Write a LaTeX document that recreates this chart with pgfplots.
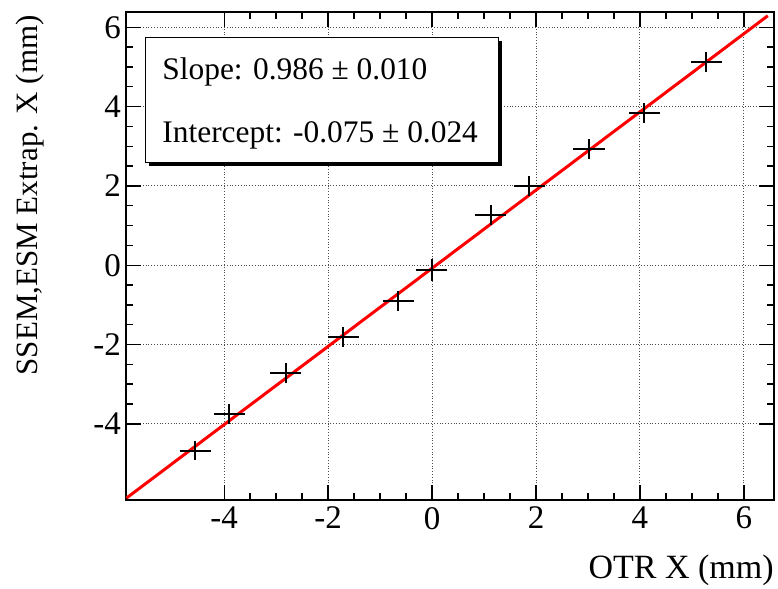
\documentclass[border=0pt]{standalone}
\usepackage{fontspec}
\setmainfont{Liberation Serif}
\usepackage{pgfplots}
\pgfplotsset{compat=1.18}
\definecolor{fitred}{HTML}{FF0000}

\begin{document}
\begin{tikzpicture}[font=\rmfamily]
  \useasboundingbox (-63pt,-44.5pt) rectangle (326pt,250pt);
  \begin{axis}[at={(0,0)},anchor=south west,
    scale only axis,width=324pt,height=244pt,
    xmin=-5.89,xmax=6.58,ymin=-5.92,ymax=6.385,
    xtick={-4,-2,0,2,4,6},xticklabels={-4,-2,0,2,4,6},
    ytick={-4,-2,0,2,4,6},yticklabels={-4,-2,0,2,4,6},
    minor x tick num=3,minor y tick num=3,
    tick align=inside,major tick length=7.5pt,minor tick length=3.5pt,
    tick style={black,line width=0.7pt},
    grid=major,major grid style={densely dotted,black!70,line width=0.5pt},
    axis line style={line width=1pt},
    tick label style={font=\fontsize{16.5}{19}\selectfont},
    yticklabel style={xshift=1pt},
    xlabel={OTR X (mm)},ylabel={SSEM,ESM Extrap. X (mm)},
    xlabel style={at={(rel axis cs:1,-0.145)},anchor=east,inner sep=0pt,
      font=\fontsize{17}{20}\selectfont},
    ylabel style={at={(rel axis cs:-0.148,0.994)},anchor=east,inner sep=0pt,
      font=\fontsize{15.5}{18}\selectfont},
  ]
    % fit line
    \addplot[fitred,line width=1.5pt] coordinates {(-5.88,-5.87)(6.46,6.29)};
    % data with errors
    \addplot[draw=none,mark=none,
      error bars/.cd,x dir=both,y dir=both,x explicit,y explicit,
      error mark=none,error bar style={draw=black,solid,line width=1pt}]
      table[x=x,y=y,x error=ex,y error=ey] {
      x y ex ey
      -4.56 -4.68 0.30 0.24
      -3.90 -3.76 0.30 0.25
      -2.82 -2.71 0.30 0.25
      -1.71 -1.81 0.30 0.25
      -0.65 -0.90 0.30 0.25
      -0.01 -0.12 0.30 0.27
      1.13 1.27 0.30 0.25
      1.87 2.00 0.30 0.25
      3.02 2.93 0.30 0.25
      4.08 3.83 0.30 0.25
      5.28 5.12 0.30 0.25
    };
    % fit results box with shadow
    \fill[black] ([xshift=1.5pt,yshift=-1.5pt]rel axis cs:0.0305,0.691) rectangle ([xshift=1.5pt,yshift=-1.5pt]rel axis cs:0.575,0.947);
    \draw[black,fill=white,line width=0.6pt] (rel axis cs:0.0305,0.691) rectangle (rel axis cs:0.575,0.947);
    \node[anchor=base west,inner sep=0pt,font=\fontsize{15.7}{18}\selectfont] at (rel axis cs:0.0556,0.861) {Slope: 0.986 ± 0.010};
    \node[anchor=base west,inner sep=0pt,font=\fontsize{15.7}{18}\selectfont] at (rel axis cs:0.0556,0.7316) {Intercept: -0.075 ± 0.024};
  \end{axis}
\end{tikzpicture}
\end{document}
